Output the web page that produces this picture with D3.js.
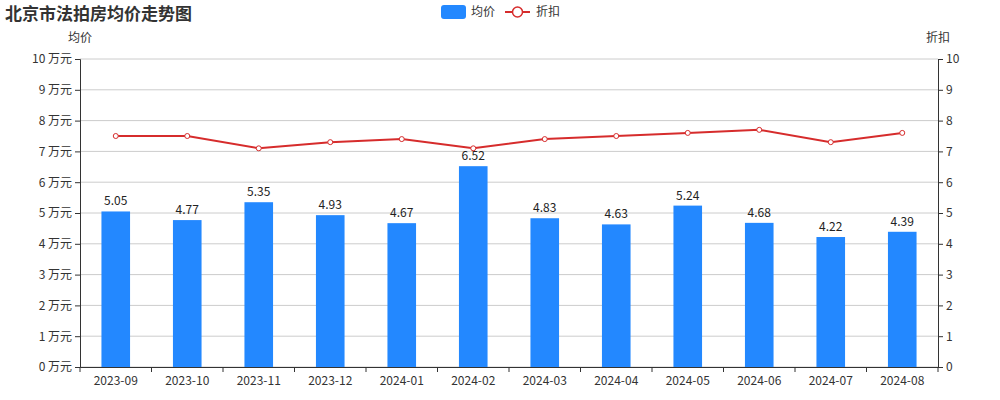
<!DOCTYPE html>
<html><head><meta charset="utf-8">
<script src="https://cdn.jsdelivr.net/npm/d3@7/dist/d3.min.js"></script>
<style>body{margin:0;background:#fff;font-family:"Microsoft YaHei","Noto Sans CJK SC",sans-serif}</style>
</head><body><svg id="c" width="1000" height="400"></svg>
<script>
const months = ['2023-09','2023-10','2023-11','2023-12','2024-01','2024-02','2024-03','2024-04','2024-05','2024-06','2024-07','2024-08'];
const prices = [5.05,4.77,5.35,4.93,4.67,6.52,4.83,4.63,5.24,4.68,4.22,4.39];
const discounts = [7.5,7.5,7.1,7.3,7.4,7.1,7.4,7.5,7.6,7.7,7.3,7.6];
const ticks = d3.range(0, 11);

const svg = d3.select('#c');
const m = {l: 80, r: 62, t: 59, b: 33};
const W = 1000, H = 400;
const x = d3.scaleBand().domain(months).range([m.l, W - m.r]).paddingInner(0.6).paddingOuter(0.3);
const xb = d3.scaleBand().domain(months).range([m.l, W - m.r]);
const y = d3.scaleLinear().domain([0, 10]).range([H - m.b, m.t]);
const font = 'font-family:"Noto Sans CJK SC",sans-serif';

// grid
svg.append('g').selectAll('line').data(ticks).enter().append('line')
  .attr('x1', m.l).attr('x2', W - m.r).attr('y1', d => y(d)).attr('y2', d => y(d))
  .attr('stroke', '#ccc');

// left axis
const la = svg.append('g').attr('transform', `translate(${m.l},0)`)
  .call(d3.axisLeft(y).tickValues(ticks).tickSize(5).tickFormat(d => d + ' 万元'));
const ra = svg.append('g').attr('transform', `translate(${W - m.r},0)`)
  .call(d3.axisRight(y).tickValues(ticks).tickSize(5));
const xa = svg.append('g').attr('transform', `translate(0,${H - m.b})`)
  .call(d3.axisBottom(xb).tickSize(0).tickPadding(9));
xa.selectAll('.tick').append('line').attr('x1', -xb.bandwidth()/2).attr('x2', -xb.bandwidth()/2).attr('y2', 5).attr('stroke', '#333');
xa.append('line').attr('x1', W - m.r).attr('x2', W - m.r).attr('y2', 5).attr('stroke', '#333');
[la, ra, xa].forEach(a => {
  a.selectAll('path,line').attr('stroke', '#333');
  a.selectAll('text').attr('fill', '#333').style('font-size', '12px').attr('style', font + ';font-size:12px');
});
la.selectAll('.tick line').attr('stroke', '#333');

// bars
svg.append('g').selectAll('rect').data(prices).enter().append('rect')
  .attr('x', (d, i) => x(months[i])).attr('width', x.bandwidth())
  .attr('y', d => y(d)).attr('height', d => y(0) - y(d)).attr('fill', '#2388ff');
svg.append('g').selectAll('text').data(prices).enter().append('text')
  .attr('x', (d, i) => x(months[i]) + x.bandwidth()/2).attr('y', d => y(d) - 6)
  .attr('text-anchor', 'middle').attr('fill', '#222').attr('style', font + ';font-size:12px')
  .text(d => d.toFixed(2));

// line
const cx = i => xb(months[i]) + xb.bandwidth()/2;
svg.append('path').datum(discounts)
  .attr('d', d3.line().x((d, i) => cx(i)).y(d => y(d)))
  .attr('fill', 'none').attr('stroke', '#d62c2c').attr('stroke-width', 2);
svg.append('g').selectAll('circle').data(discounts).enter().append('circle')
  .attr('cx', (d, i) => cx(i)).attr('cy', d => y(d)).attr('r', 2.5)
  .attr('fill', '#fff').attr('stroke', '#d62c2c').attr('stroke-width', 1);

// axis names
svg.append('text').attr('x', m.l).attr('y', 42).attr('text-anchor', 'middle')
  .attr('style', font + ';font-size:12px').attr('fill', '#333').text('均价');
svg.append('text').attr('x', W - m.r).attr('y', 42).attr('text-anchor', 'middle')
  .attr('style', font + ';font-size:12px').attr('fill', '#333').text('折扣');

// title
svg.append('text').attr('x', 5).attr('y', 20).attr('style', font + ';font-size:17px;font-weight:bold')
  .attr('fill', '#333').text('北京市法拍房均价走势图');

// legend
svg.append('rect').attr('x', 441).attr('y', 5).attr('width', 25).attr('height', 14).attr('rx', 3).attr('fill', '#2388ff');
svg.append('text').attr('x', 471).attr('y', 16).attr('style', font + ';font-size:12px').attr('fill', '#333').text('均价');
svg.append('line').attr('x1', 505).attr('x2', 530).attr('y1', 12).attr('y2', 12).attr('stroke', '#d62c2c').attr('stroke-width', 2);
svg.append('circle').attr('cx', 517.5).attr('cy', 12).attr('r', 5).attr('fill', '#fff').attr('stroke', '#d62c2c').attr('stroke-width', 1.5);
svg.append('text').attr('x', 536).attr('y', 16).attr('style', font + ';font-size:12px').attr('fill', '#333').text('折扣');
</script></body></html>
